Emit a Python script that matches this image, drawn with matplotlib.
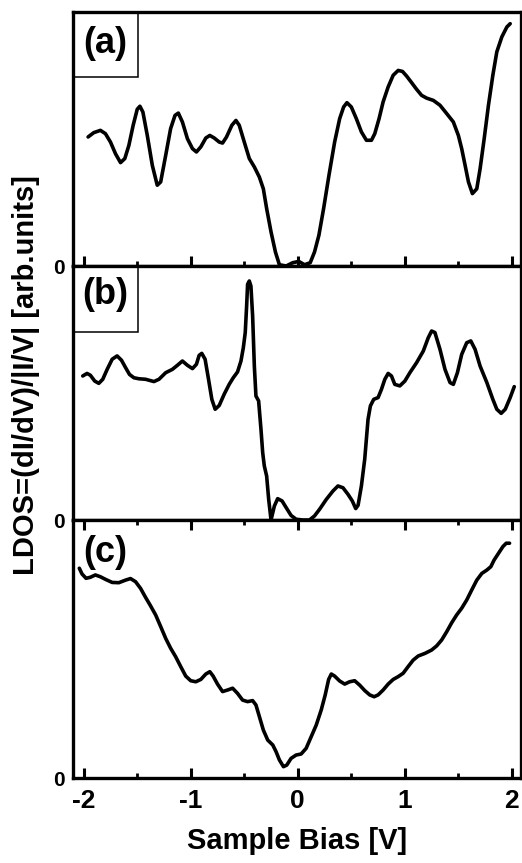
import matplotlib
matplotlib.use("Agg")
import matplotlib.pyplot as plt
from matplotlib.patches import Rectangle
from matplotlib.ticker import MultipleLocator

plt.rcParams['font.family'] = ['Liberation Sans', 'DejaVu Sans']
plt.rcParams['font.weight'] = 'bold'

# Panel (a)
xa = [-1.959, -1.906, -1.844, -1.797, -1.75, -1.703, -1.656, -1.616, -1.578, -1.538,
      -1.5, -1.475, -1.447, -1.406, -1.359, -1.313, -1.281, -1.234, -1.188, -1.147,
      -1.116, -1.078, -1.031, -0.984, -0.947, -0.906, -0.859, -0.822, -0.781, -0.734,
      -0.703, -0.666, -0.616, -0.578, -0.547, -0.5, -0.453, -0.406, -0.359, -0.322,
      -0.291, -0.25, -0.209, -0.172, -0.109, -0.047, 0.009, 0.063, 0.116, 0.156,
      0.197, 0.241, 0.291, 0.344, 0.391, 0.428, 0.459, 0.5, 0.547, 0.594,
      0.641, 0.688, 0.719, 0.759, 0.797, 0.844, 0.891, 0.938, 0.978, 1.016,
      1.063, 1.109, 1.156, 1.203, 1.266, 1.328, 1.391, 1.453, 1.5, 1.531,
      1.563, 1.594, 1.631, 1.672, 1.703, 1.741, 1.781, 1.822, 1.859, 1.906,
      1.953, 1.984]
ya = [0.508, 0.525, 0.534, 0.521, 0.488, 0.442, 0.407, 0.423, 0.475, 0.554,
      0.617, 0.629, 0.606, 0.514, 0.396, 0.318, 0.331, 0.436, 0.541, 0.593,
      0.602, 0.567, 0.501, 0.462, 0.449, 0.469, 0.504, 0.514, 0.504, 0.488,
      0.484, 0.508, 0.554, 0.573, 0.554, 0.488, 0.423, 0.390, 0.350, 0.304,
      0.226, 0.134, 0.055, 0.005, 0.0, 0.013, 0.018, 0.005, 0.013, 0.055,
      0.121, 0.226, 0.357, 0.488, 0.580, 0.626, 0.643, 0.626, 0.580, 0.528,
      0.495, 0.495, 0.521, 0.580, 0.646, 0.705, 0.751, 0.770, 0.766, 0.748,
      0.722, 0.696, 0.672, 0.661, 0.652, 0.633, 0.600, 0.567, 0.514, 0.462,
      0.396, 0.331, 0.285, 0.304, 0.383, 0.501, 0.633, 0.751, 0.843, 0.902,
      0.941, 0.954]

# Panel (b)
xb = [-2.009, -1.969, -1.938, -1.897, -1.859, -1.822, -1.781, -1.734, -1.688, -1.647,
      -1.609, -1.572, -1.531, -1.484, -1.422, -1.344, -1.297, -1.234, -1.172, -1.125,
      -1.078, -1.031, -0.984, -0.947, -0.922, -0.897, -0.866, -0.834, -0.803, -0.772,
      -0.734, -0.688, -0.641, -0.603, -0.563, -0.531, -0.509, -0.491, -0.478, -0.469,
      -0.453, -0.438, -0.422, -0.406, -0.391, -0.366, -0.344, -0.328, -0.313, -0.291,
      -0.272, -0.25, -0.219, -0.188, -0.147, -0.109, -0.063, -0.016, 0.047, 0.109,
      0.156, 0.203, 0.266, 0.328, 0.375, 0.422, 0.469, 0.509, 0.541, 0.563,
      0.594, 0.625, 0.656, 0.678, 0.709, 0.75, 0.781, 0.813, 0.844, 0.875,
      0.906, 0.953, 1.0, 1.047, 1.109, 1.172, 1.219, 1.25, 1.281, 1.328,
      1.375, 1.422, 1.453, 1.491, 1.531, 1.578, 1.616, 1.656, 1.703, 1.766,
      1.822, 1.859, 1.9, 1.938, 1.984, 2.022]
yb = [0.567, 0.577, 0.570, 0.547, 0.538, 0.554, 0.593, 0.633, 0.646, 0.629,
      0.600, 0.573, 0.560, 0.556, 0.554, 0.545, 0.554, 0.580, 0.593, 0.609,
      0.626, 0.609, 0.596, 0.613, 0.648, 0.656, 0.633, 0.554, 0.475, 0.436,
      0.451, 0.495, 0.534, 0.560, 0.583, 0.626, 0.678, 0.738, 0.843, 0.928,
      0.941, 0.921, 0.803, 0.606, 0.488, 0.469, 0.357, 0.265, 0.213, 0.173,
      0.081, 0.0, 0.055, 0.084, 0.075, 0.049, 0.018, 0.003, 0.0, 0.0,
      0.016, 0.042, 0.081, 0.114, 0.134, 0.127, 0.101, 0.075, 0.045, 0.058,
      0.134, 0.239, 0.396, 0.449, 0.475, 0.482, 0.514, 0.554, 0.577, 0.567,
      0.534, 0.528, 0.547, 0.580, 0.619, 0.665, 0.718, 0.744, 0.738, 0.672,
      0.593, 0.541, 0.534, 0.580, 0.652, 0.698, 0.705, 0.672, 0.606, 0.541,
      0.475, 0.436, 0.420, 0.436, 0.482, 0.525]

# Panel (c)
xc = [-2.041, -2.016, -1.978, -1.938, -1.891, -1.844, -1.797, -1.734, -1.672, -1.609,
      -1.563, -1.516, -1.469, -1.422, -1.375, -1.328, -1.281, -1.234, -1.188, -1.141,
      -1.094, -1.047, -1.0, -0.953, -0.906, -0.859, -0.822, -0.791, -0.75, -0.703,
      -0.656, -0.609, -0.563, -0.516, -0.469, -0.422, -0.391, -0.359, -0.322, -0.281,
      -0.234, -0.203, -0.172, -0.134, -0.103, -0.063, -0.016, 0.031, 0.078, 0.125,
      0.172, 0.219, 0.256, 0.288, 0.313, 0.344, 0.391, 0.438, 0.484, 0.531,
      0.578, 0.625, 0.672, 0.713, 0.75, 0.797, 0.844, 0.891, 0.938, 0.984,
      1.031, 1.078, 1.125, 1.188, 1.25, 1.297, 1.344, 1.391, 1.438, 1.484,
      1.531, 1.578, 1.625, 1.672, 1.719, 1.766, 1.803, 1.834, 1.875, 1.916,
      1.947, 1.978]
yc = [0.813, 0.791, 0.774, 0.778, 0.787, 0.780, 0.770, 0.758, 0.757, 0.767,
      0.773, 0.761, 0.735, 0.700, 0.667, 0.632, 0.587, 0.541, 0.503, 0.470,
      0.432, 0.395, 0.377, 0.373, 0.382, 0.403, 0.412, 0.395, 0.364, 0.335,
      0.341, 0.348, 0.328, 0.302, 0.296, 0.300, 0.283, 0.238, 0.186, 0.147,
      0.128, 0.102, 0.070, 0.044, 0.050, 0.076, 0.089, 0.093, 0.115, 0.160,
      0.205, 0.264, 0.322, 0.382, 0.403, 0.395, 0.376, 0.364, 0.373, 0.377,
      0.360, 0.339, 0.322, 0.315, 0.322, 0.341, 0.364, 0.382, 0.393, 0.406,
      0.432, 0.457, 0.473, 0.483, 0.496, 0.512, 0.535, 0.567, 0.602, 0.632,
      0.658, 0.690, 0.729, 0.767, 0.793, 0.806, 0.819, 0.845, 0.871, 0.897,
      0.910, 0.910]

labels = ['(a)', '(b)', '(c)']
xticks = [-2, -1, 0, 1, 2]

W, H = 522, 863
fig = plt.figure(figsize=(W / 100, H / 100), dpi=100)

left = 73 / W
width = (521 - 73) / W
panels = [(12, 266), (266, 520), (520, 778)]
series = [(xa, ya), (xb, yb), (xc, yc)]

axes = []
for i, ((top, bot), (xs, ys)) in enumerate(zip(panels, series)):
    ax = fig.add_axes([left, 1 - bot / H, width, (bot - top) / H])
    ax.plot(xs, ys, color='black', lw=2.6, solid_joinstyle='round', solid_capstyle='round')
    ax.set_xlim(-2.10, 2.085)
    ax.set_ylim(0, 1)
    ax.set_yticks([0])
    ax.set_yticklabels(['0'], fontsize=15, fontweight='bold')
    ax.tick_params(axis='y', length=0, pad=6)
    ax.xaxis.set_major_locator(MultipleLocator(1))
    ax.xaxis.set_minor_locator(MultipleLocator(0.5))
    for s in ax.spines.values():
        s.set_linewidth(2.4)
    if i == 0:
        ax.tick_params(axis='x', which='both', direction='in', bottom=True, top=False,
                       labelbottom=False)
    elif i == 1:
        ax.tick_params(axis='x', which='both', bottom=False, top=False, labelbottom=False)
    else:
        ax.tick_params(axis='x', which='both', direction='in', bottom=True, top=True,
                       labelbottom=True, labelsize=19, pad=8)
        ax.set_xticks(xticks)
        ax.set_xticklabels([str(t) for t in xticks], fontweight='bold')
        ax.set_xlabel('Sample Bias [V]', fontsize=21, fontweight='bold', labelpad=10)
    ax.tick_params(axis='x', which='major', length=7, width=2.2)
    ax.tick_params(axis='x', which='minor', length=3.5, width=2)
    axes.append(ax)

# label boxes
ph = [254, 254, 258]
box_h = [65, 66, None]
label_y = [43 - 12, 294 - 266, 552 - 520]
for i, ax in enumerate(axes):
    if box_h[i] is not None:
        ax.add_patch(Rectangle((0, 1 - box_h[i] / ph[i]), 65 / 448, box_h[i] / ph[i],
                               transform=ax.transAxes, fill=False, lw=1.1,
                               edgecolor='black', clip_on=False, zorder=3))
    ax.text((105 - 73) / 448, 1 - label_y[i] / ph[i], labels[i], transform=ax.transAxes,
            fontsize=26, fontweight='bold', ha='center', va='center')

fig.text(26 / W, 1 - 375 / H, 'LDOS=(dI/dV)/|I/V| [arb.units]', rotation=90,
         fontsize=21, fontweight='bold', ha='center', va='center')

fig.savefig('out.png', dpi=100)
